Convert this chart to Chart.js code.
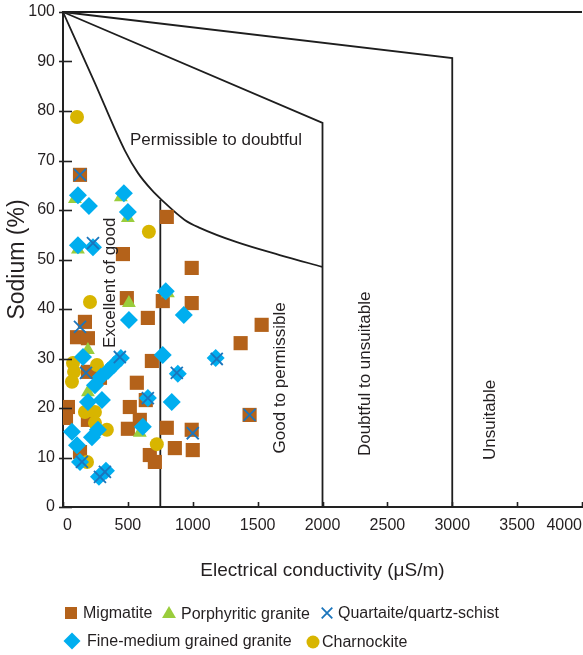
<!DOCTYPE html>
<html>
<head>
<meta charset="utf-8">
<script src="https://cdn.jsdelivr.net/npm/chart.js@4.4.1/dist/chart.umd.min.js"></script>
<style>
  html, body { margin: 0; padding: 0; background: #fff; }
</style>
</head>
<body>
<canvas id="c" width="583" height="655"></canvas>
<script>
// Water samples: [electrical conductivity (µS/m), sodium (%)]
const migmatite = [[131,67.1],[800,58.6],[462,51.1],[492,42.2],[169,37.4],[654,38.2],[108,34.3],[192,34.1],[769,41.6],[992,41.2],[992,48.3],[685,29.5],[192,27.3],[285,26.1],[569,25.1],[515,20.2],[638,21.6],[592,17.6],[500,15.8],[800,16.0],[862,11.9],[992,15.6],[1000,11.5],[1438,18.6],[1531,36.8],[1369,33.1],[669,10.5],[708,9.1],[38,20.2],[23,18.0],[192,17.6],[131,11.1]];
const porphyritic = [[446,62.6],[92,62.2],[500,58.4],[115,52.0],[508,41.2],[192,31.7],[192,23.2],[592,15.0],[808,43.2]];
const quartzite = [[131,67.1],[231,53.3],[131,36.4],[177,27.1],[438,30.3],[654,22.0],[877,27.1],[1185,29.9],[1438,18.6],[1000,14.9],[146,9.1],[323,7.1],[285,6.1]];
const fineMedium = [[115,63.0],[200,60.8],[469,63.4],[500,59.6],[115,52.9],[231,52.5],[792,43.6],[508,37.8],[931,38.8],[769,30.7],[885,26.9],[1177,30.1],[838,21.2],[654,22.0],[154,30.3],[292,26.3],[346,27.5],[392,28.7],[446,30.1],[246,24.6],[300,21.6],[192,21.2],[69,15.2],[108,12.5],[223,14.1],[269,15.6],[131,9.1],[277,6.1],[331,7.3],[615,16.2]];
const charnockite = [[108,78.8],[662,55.6],[208,41.4],[77,29.1],[85,27.3],[69,25.3],[262,28.7],[169,19.2],[246,19.2],[246,17.0],[338,15.6],[723,12.7],[185,9.1]];

// Wilcox class boundaries
const boundaryTop = [[0,100],[4000,100]];
const boundary3000 = [[0,100],[3000,90.7],[3000,0]];
const boundary2000 = [[0,100],[2000,77.6],[2000,0]];
const boundaryCurve = [[0,100],[240,86],[477,72],[577,67.5],[685,64],[762,62],[938,58],[1054,56.4],[1340,53.5],[1670,50.9],[2000,48.5]];
const boundary750 = [[750,62],[750,0]];

// Axis ticks
const xTickValues = [0,500,1000,1500,2000,2500,3000,3500,4000];
const yTickValues = [0,10,20,30,40,50,60,70,80,90,100];

// Class names placed inside the diagram: [text, EC, Na, rotated, align]
const classLabels = [
  ['Permissible to doubtful', 516, 74.1, false, 'left'],
  ['Excellent of good', 362, 45.3, true, 'center'],
  ['Good to permissible', 1672, 26.1, true, 'center'],
  ['Doubtful to unsuitable', 2328, 26.9, true, 'center'],
  ['Unsuitable', 3291, 17.6, true, 'center']
];

const TEXT = '#231f20';
const FONT = '"Liberation Sans", Arial, sans-serif';

const toXY = arr => arr.map(p => ({x: p[0], y: p[1]}));

const lineSet = (data, extra) => Object.assign({
  type: 'line', data: toXY(data), showLine: true, pointRadius: 0, pointHoverRadius: 0,
  borderColor: '#1e1e1e', borderWidth: 1.8, fill: false, order: 10, clip: 4
}, extra || {});

const series = [
  { label: 'Migmatite', data: toXY(migmatite), pointStyle: 'rect', pointRadius: 10,
    backgroundColor: '#b4621a', borderColor: '#b4621a', borderWidth: 0, order: 4,
    legend: {x: 71, y: 613, r: 8.5, tx: 83} },
  { label: 'Porphyritic granite', data: toXY(porphyritic), pointStyle: 'triangle', pointRadius: 8,
    backgroundColor: '#9acd3c', borderColor: '#9acd3c', borderWidth: 0, order: 3,
    legend: {x: 169, y: 614, r: 8, tx: 181} },
  { label: 'Quartaite/quartz-schist', data: toXY(quartzite), pointStyle: 'crossRot', pointRadius: 8.5,
    backgroundColor: '#1b75bc', borderColor: '#1b75bc', borderWidth: 1.8, order: 0,
    legend: {x: 327, y: 613, r: 7.5, tx: 338} },
  { label: 'Fine-medium grained granite', data: toXY(fineMedium), pointStyle: 'rectRot', pointRadius: 9,
    backgroundColor: '#00aeef', borderColor: '#00aeef', borderWidth: 0, order: 1,
    legend: {x: 72, y: 641, r: 8.5, tx: 87} },
  { label: 'Charnockite', data: toXY(charnockite), pointStyle: 'circle', pointRadius: 7,
    backgroundColor: '#d8b500', borderColor: '#d8b500', borderWidth: 0, order: 2,
    legend: {x: 313, y: 642, r: 6.5, tx: 322} }
];

const decorations = {
  id: 'decorations',
  afterDraw(chart) {
    const {ctx, scales: {x, y}} = chart;
    ctx.save();
    // y tick marks crossing the axis
    ctx.strokeStyle = '#222';
    ctx.lineWidth = 1.6;
    yTickValues.forEach(v => {
      const py = Math.round(y.getPixelForValue(v)) + 0.5;
      ctx.beginPath(); ctx.moveTo(x.left - 4, py); ctx.lineTo(x.left + 9, py); ctx.stroke();
    });
    // x tick marks pointing up
    xTickValues.forEach(v => {
      const px = Math.round(x.getPixelForValue(v)) + 0.5;
      ctx.beginPath(); ctx.moveTo(px, y.bottom); ctx.lineTo(px, y.bottom - 5); ctx.stroke();
    });
    // class names
    ctx.fillStyle = TEXT;
    ctx.font = '17px ' + FONT;
    ctx.textBaseline = 'middle';
    classLabels.forEach(([t, ec, na, rot, align]) => {
      const px = x.getPixelForValue(ec), py = y.getPixelForValue(na);
      ctx.save();
      ctx.translate(px, py);
      if (rot) ctx.rotate(-Math.PI / 2);
      ctx.textAlign = align;
      ctx.fillText(t, 0, 0);
      ctx.restore();
    });
    // legend
    ctx.font = '16px ' + FONT;
    ctx.textAlign = 'left';
    series.forEach(s => {
      const L = s.legend;
      ctx.fillStyle = s.backgroundColor;
      ctx.strokeStyle = s.borderColor;
      ctx.lineWidth = s.borderWidth || 0;
      Chart.helpers.drawPoint(ctx, {pointStyle: s.pointStyle, radius: L.r, rotation: 0, borderWidth: s.borderWidth}, L.x, L.y);
      ctx.fillStyle = TEXT;
      ctx.fillText(s.label, L.tx, L.y + 1);
    });
    ctx.restore();
  }
};

new Chart(document.getElementById('c'), {
  type: 'scatter',
  data: {
    datasets: [
      ...series.map(s => Object.assign({pointHoverRadius: s.pointRadius}, s)),
      lineSet(boundaryTop),
      lineSet(boundary3000),
      lineSet(boundary2000),
      lineSet(boundaryCurve, {cubicInterpolationMode: 'monotone'}),
      lineSet(boundary750)
    ]
  },
  options: {
    responsive: false,
    devicePixelRatio: 1,
    animation: false,
    events: [],
    layout: { autoPadding: false, padding: { top: 12, right: 1, left: 0, bottom: 68 } },
    plugins: { legend: { display: false }, tooltip: { enabled: false } },
    scales: {
      x: {
        type: 'linear', min: 0, max: 4000,
        afterFit: s => { s.height = 80; s.paddingLeft = 0; s.paddingRight = 0; },
        afterBuildTicks: s => { s.ticks = xTickValues.map(v => ({value: v})); },
        grid: { display: false, drawTicks: false },
        border: { display: true, color: '#222', width: 2 },
        ticks: { color: TEXT, font: { family: FONT, size: 16 }, padding: 9, align: 'inner',
                 maxRotation: 0, autoSkip: false, callback: v => String(v) },
        title: { display: true, text: 'Electrical conductivity (\u03bcS/m)', color: TEXT,
                 font: { family: FONT, size: 19 }, padding: { top: 0, bottom: 5 } }
      },
      y: {
        type: 'linear', min: 0, max: 100,
        afterFit: s => { s.width = 63; s.paddingTop = 0; s.paddingBottom = 0; },
        afterBuildTicks: s => { s.ticks = yTickValues.map(v => ({value: v})); },
        grid: { display: false, drawTicks: false },
        border: { display: true, color: '#222', width: 2 },
        ticks: { color: TEXT, font: { family: FONT, size: 16 }, padding: 8, autoSkip: false,
                 callback: v => String(v) },
        title: { display: true, text: 'Sodium (%)', color: TEXT,
                 font: { family: FONT, size: 23 }, padding: { top: 4, bottom: 0 } }
      }
    }
  },
  plugins: [decorations]
});
</script>
</body>
</html>
